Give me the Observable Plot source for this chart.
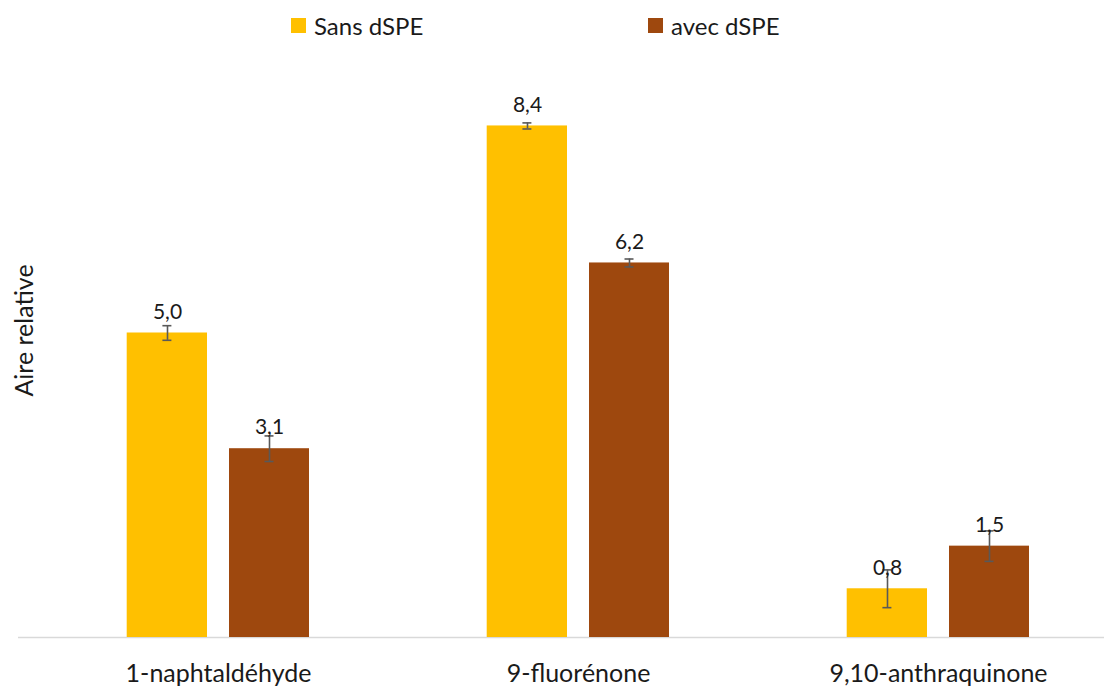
<!DOCTYPE html>
<html>
<head>
<meta charset="utf-8">
<script src="https://cdn.jsdelivr.net/npm/d3@7"></script>
<script src="https://cdn.jsdelivr.net/npm/@observablehq/plot@0.6"></script>
<style>
  html, body { margin: 0; padding: 0; background: #fff; }
  body { width: 1104px; height: 686px; overflow: hidden; font-family: Lato, "Open Sans", sans-serif; }
  #legend { position: relative; height: 50px; }
  .item { position: absolute; top: 0; height: 50px; display: flex; align-items: center; font-size: 24px; color: #1a1a1a; }
  .sw { width: 15px; height: 15px; margin-right: 8px; }
</style>
</head>
<body>
<div id="legend"></div>
<div id="chart"></div>
<script>
const categories = ["1-naphtaldéhyde", "9-fluorénone", "9,10-anthraquinone"];
const series = ["Sans dSPE", "avec dSPE"];
const sansValues = [5.0, 8.4, 0.8];
const avecValues = [3.1, 6.15, 1.5];
const sansErrors = [0.12, 0.05, 0.31];
const avecErrors = [0.21, 0.065, 0.25];
const colors = ["#FFC000", "#9E480E"];
const yLabel = "Aire relative";

const fmt = v => d3.format(".1f")(v).replace(".", ",");

const sans = categories.map((c, i) => ({cat: c, v: sansValues[i], e: sansErrors[i]}));
const avec = categories.map((c, i) => ({cat: c, v: avecValues[i], e: avecErrors[i]}));

// legend
const legend = document.getElementById("legend");
const legendLeft = [291, 648];
series.forEach((s, i) => {
  const d = document.createElement("div");
  d.className = "item";
  d.style.left = legendLeft[i] + "px";
  d.innerHTML = `<span class="sw" style="background:${colors[i]}"></span><span>${s}</span>`;
  legend.appendChild(d);
});

const errColor = "#595959";
const seriesMarks = (data, color, inL, inR, dx, capL, capR) => [
  Plot.barY(data, {x: "cat", y: "v", fill: color, insetLeft: inL, insetRight: inR}),
  Plot.ruleX(data, {x: "cat", y1: d => d.v - d.e, y2: d => d.v + d.e, dx, stroke: errColor, strokeWidth: 1.6}),
  Plot.tickY(data, {x: "cat", y: d => d.v - d.e, insetLeft: capL, insetRight: capR, stroke: errColor, strokeWidth: 1.6}),
  Plot.tickY(data, {x: "cat", y: d => d.v + d.e, insetLeft: capL, insetRight: capR, stroke: errColor, strokeWidth: 1.6}),
  Plot.text(data, {x: "cat", y: "v", text: d => fmt(d.v), dx, dy: -21, lineAnchor: "middle", fontSize: 21, fill: "#1a1a1a"})
];

const chart = Plot.plot({
  width: 1104,
  height: 636,
  marginTop: 0,
  marginBottom: 49,
  marginLeft: 18,
  marginRight: 0,
  style: {fontFamily: "Lato, 'Open Sans', sans-serif", background: "#fff", color: "#1a1a1a"},
  x: {type: "band", domain: categories, range: [38, 1118], padding: 0},
  y: {domain: [0, 9], range: [587, 38.9], axis: null},
  marks: [
    Plot.ruleY([0], {stroke: "#d9d9d9", strokeWidth: 1.6}),
    ...seriesMarks(sans, colors[0], 88.7, 191, -51, 124.4, 226.6),
    ...seriesMarks(avec, colors[1], 191, 89, 51, 226.5, 124.5),
    Plot.axisX({tickSize: 0, tickPadding: 27, fontSize: 25, label: null, fill: "#1a1a1a"}),
    Plot.text([yLabel], {frameAnchor: "left", textAnchor: "middle", lineAnchor: "middle", rotate: -90, dx: 6, dy: -13.5, fontSize: 25, fill: "#1a1a1a"})
  ]
});
document.getElementById("chart").appendChild(chart);
</script>
</body>
</html>
